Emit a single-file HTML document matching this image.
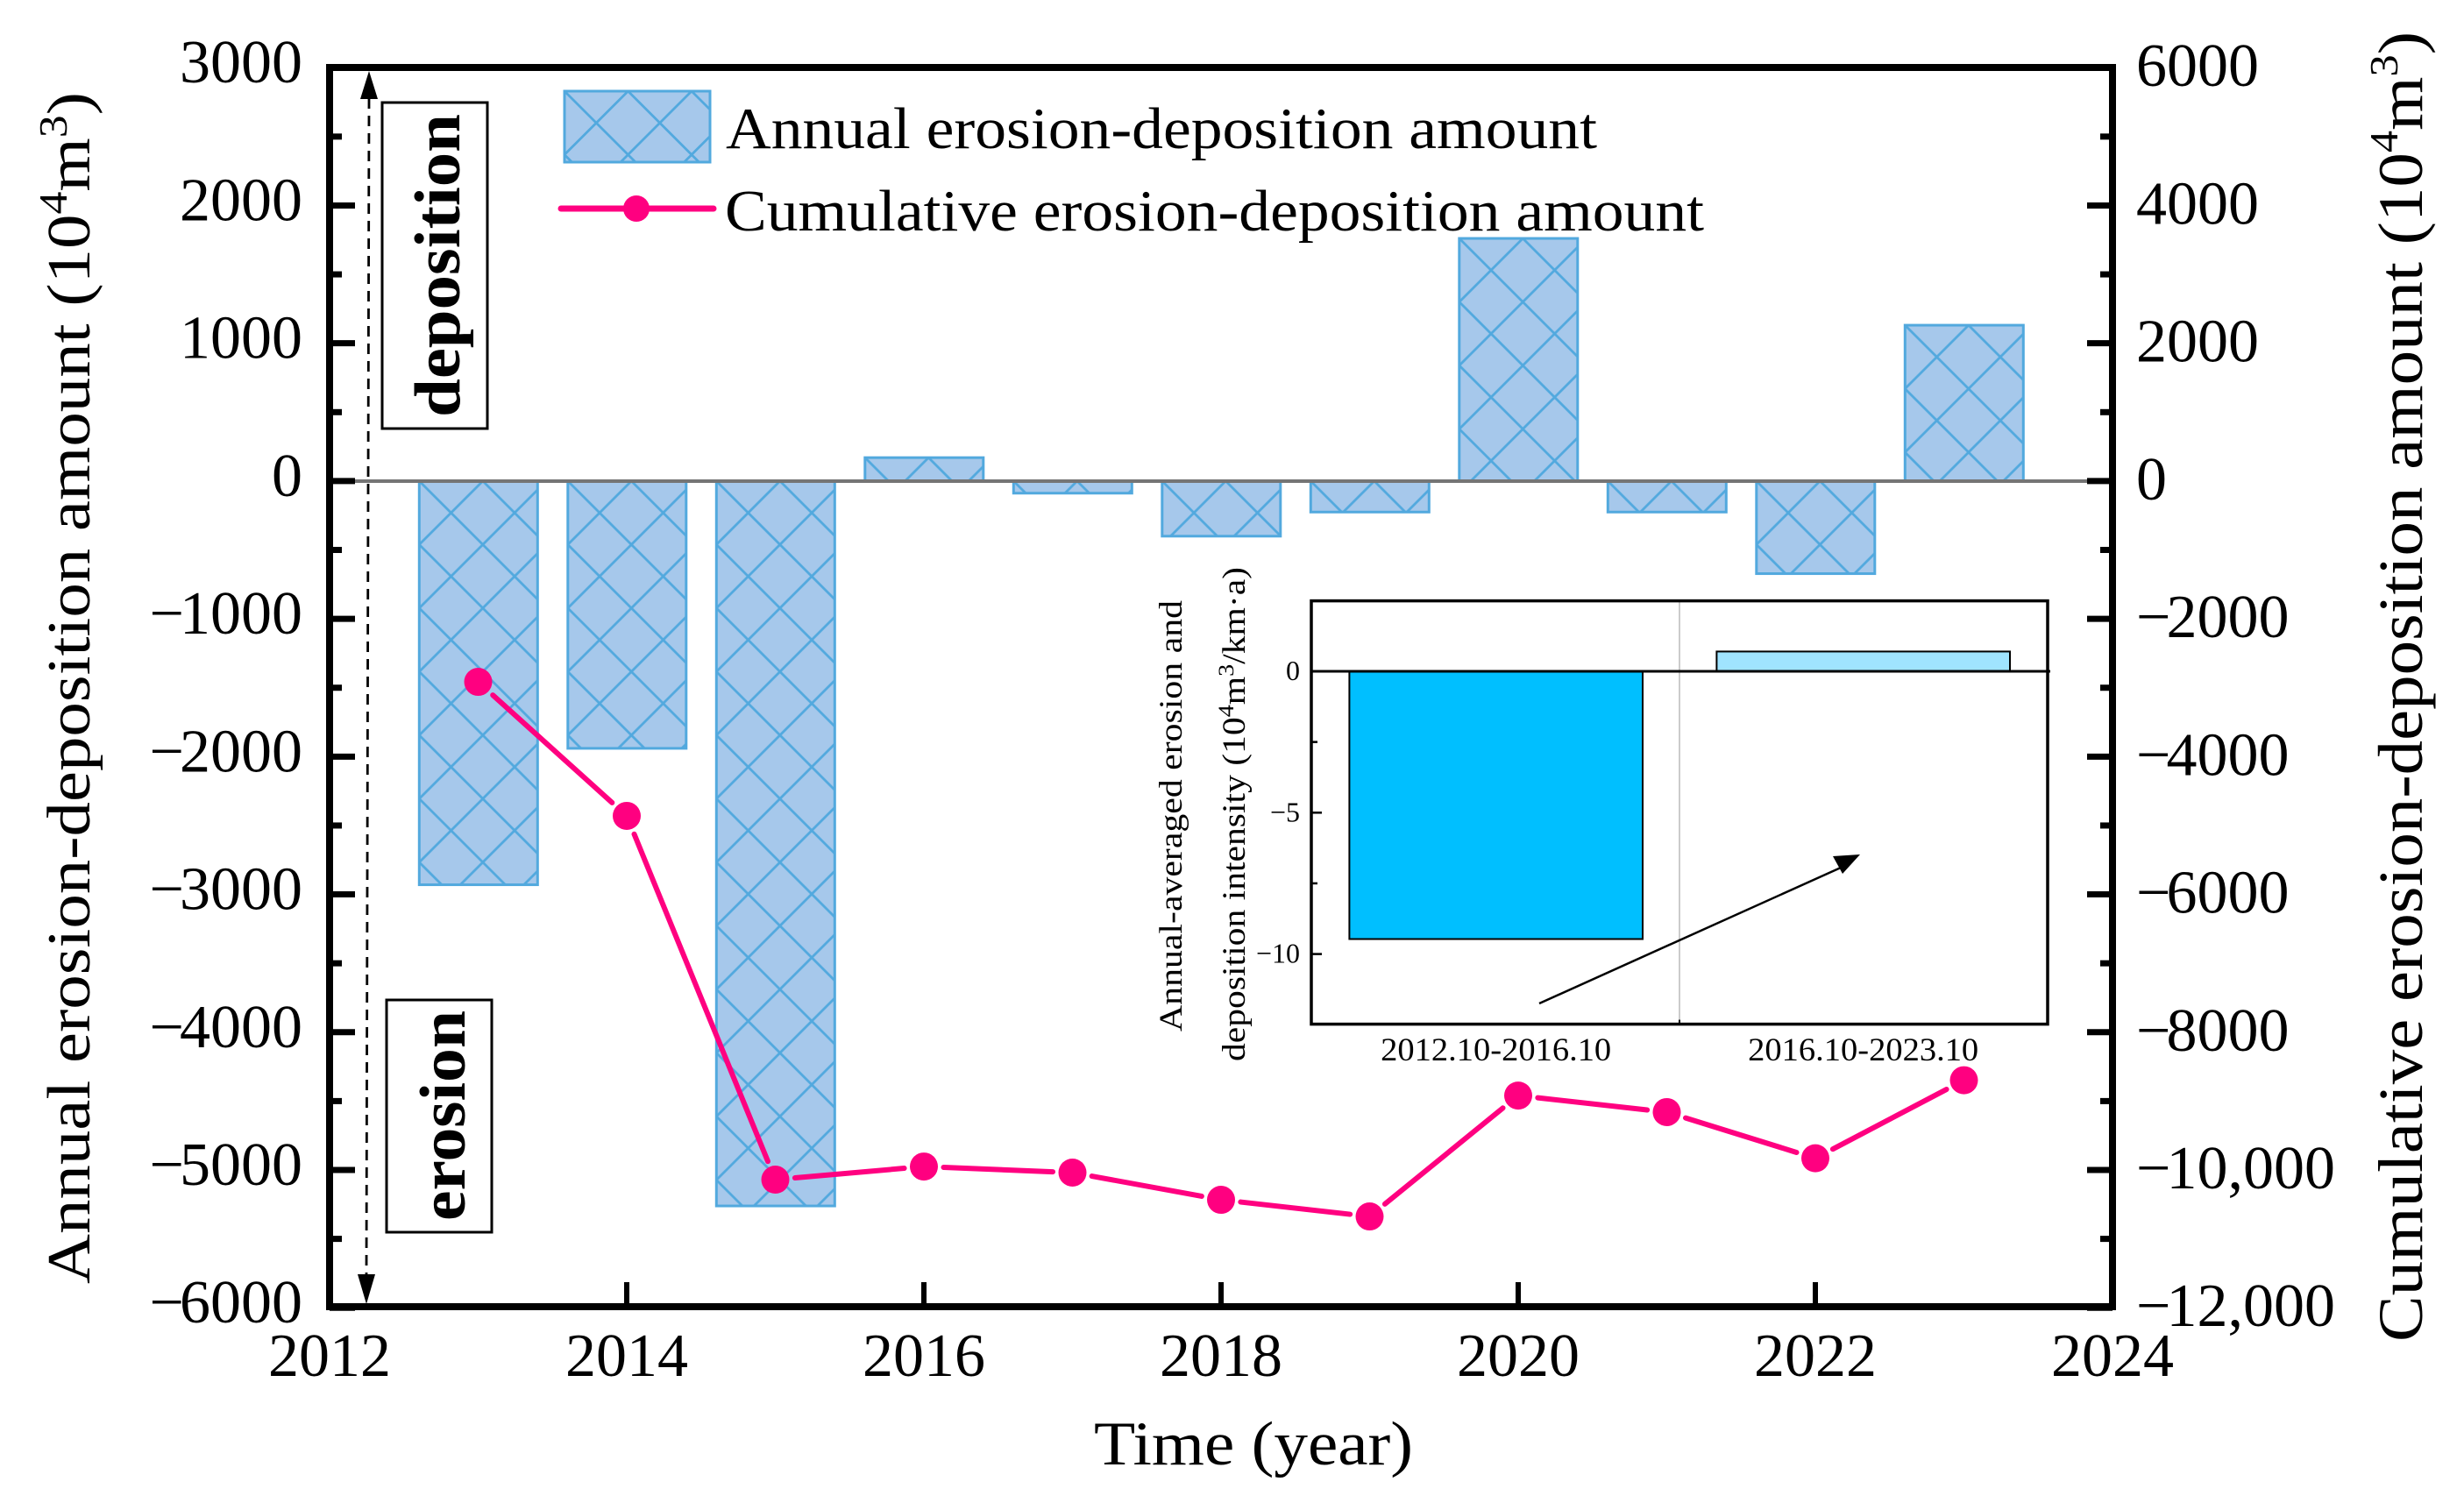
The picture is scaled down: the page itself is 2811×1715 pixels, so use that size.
<!DOCTYPE html>
<html lang="en">
<head>
<meta charset="utf-8">
<title>Annual and cumulative erosion-deposition amount</title>
<style>
html,body{margin:0;padding:0;background:#fff;}
svg{display:block;}
text{font-family:"Liberation Serif",serif;fill:#000;}
</style>
</head>
<body>
<svg id="chart" xmlns="http://www.w3.org/2000/svg" width="2811" height="1715" viewBox="0 0 2811 1715">
  <defs>
    <pattern id="hatch" patternUnits="userSpaceOnUse" x="0" y="0" width="72.5" height="72.5">
      <rect width="72.5" height="72.5" fill="#a6c8eb"/>
      <path d="M0 0L72.5 72.5M72.5 0L0 72.5" stroke="#52a9de" stroke-width="2.8" fill="none"/>
    </pattern>
    <pattern id="hatch-legend" patternUnits="userSpaceOnUse" x="0" y="0" width="72.5" height="72.5">
      <rect width="72.5" height="72.5" fill="#a6c8eb"/>
      <path d="M0 0L72.5 72.5M72.5 0L0 72.5" stroke="#52a9de" stroke-width="2.8" fill="none"/>
    </pattern>
  </defs>
  <rect width="2811" height="1715" fill="#fff"/>

  <g id="bars"></g>
  <line x1="405" y1="549" x2="2400" y2="549" stroke="#757575" stroke-width="4"/>

  <g id="inset"></g>

  <g id="series"></g>

  <g id="axes"></g>
  <rect x="376" y="77" width="2034" height="1414" fill="none" stroke="#000" stroke-width="8"/>

  <text x="1248" y="1671" font-size="71" textLength="364" lengthAdjust="spacingAndGlyphs">Time (year)</text>
  <text transform="translate(102,1465) rotate(-90)" font-size="70" textLength="1360" lengthAdjust="spacingAndGlyphs">Annual erosion-deposition amount (10<tspan font-size="46" dy="-26">4</tspan><tspan dy="26">m</tspan><tspan font-size="46" dy="-26">3</tspan><tspan dy="26">)</tspan></text>
  <text transform="translate(2763,1531) rotate(-90)" font-size="72" textLength="1495" lengthAdjust="spacingAndGlyphs">Cumulative erosion-deposition amount (10<tspan font-size="46" dy="-28">4</tspan><tspan dy="28">m</tspan><tspan font-size="46" dy="-28">3</tspan><tspan dy="28">)</tspan></text>

  <g>
    <g>
      <rect transform="translate(644,104)" width="166" height="81" fill="url(#hatch-legend)" stroke="#52a9de" stroke-width="3"/>
      <text x="828" y="169" font-size="67" textLength="994" lengthAdjust="spacingAndGlyphs">Annual erosion-deposition amount</text>
    </g>
    <g>
      <line x1="640" y1="238" x2="814" y2="238" stroke="#ff0080" stroke-width="7" stroke-linecap="round"/>
      <circle cx="726" cy="238" r="15" fill="#ff0080"/>
      <text x="827" y="263" font-size="67" textLength="1117" lengthAdjust="spacingAndGlyphs">Cumulative erosion-deposition amount</text>
    </g>
  </g>

  <g>
    <rect x="436" y="117" width="120" height="372" fill="#fff" stroke="#000" stroke-width="3"/>
    <text transform="translate(524,476) rotate(-90)" font-size="74" font-weight="bold" textLength="346" lengthAdjust="spacingAndGlyphs">deposition</text>
  </g>
  <g>
    <rect x="441" y="1141" width="120" height="265" fill="#fff" stroke="#000" stroke-width="3"/>
    <text transform="translate(530,1393) rotate(-90)" font-size="74" font-weight="bold" textLength="240" lengthAdjust="spacingAndGlyphs">erosion</text>
  </g>
  <g>
    <line x1="421" y1="112" x2="418" y2="1455" stroke="#000" stroke-width="2.8" stroke-dasharray="12 8"/>
    <polygon points="421,81 411,113 431,113" fill="#000"/>
    <polygon points="418,1488 408,1454 428,1454" fill="#000"/>
  </g>
</svg>

<script>
// Main chart data
const years = [2013, 2014, 2015, 2016, 2017, 2018, 2019, 2020, 2021, 2022, 2023];
const annualValues = [-2930, -1940, -5261, 170, -88, -400, -225, 1761, -225, -672, 1131];
const cumulativeValues = [-2915, -4860, -10140, -9950, -10038, -10433, -10675, -8920, -9160, -9830, -8697];
const xTickYears = [2012, 2014, 2016, 2018, 2020, 2022, 2024];
const leftTickValues = [3000, 2000, 1000, 0, -1000, -2000, -3000, -4000, -5000, -6000];
const rightTickValues = [6000, 4000, 2000, 0, -2000, -4000, -6000, -8000, -10000, -12000];
const rightTickLabels = ['6000', '4000', '2000', '0', '\u22122000', '\u22124000', '\u22126000', '\u22128000', '\u221210,000', '\u221212,000'];
// Inset data
const insetCategories = ['2012.10-2016.10', '2016.10-2023.10'];
const insetValues = [-9.47, 0.7];
const insetTickValues = [0, -5, -10];

// Axis functions
const xYear = y => 376 + (y - 2012) * 169.5;
const yLeft = v => 548.9 - v * 0.15722;
const yRight = v => 548.9 - v * 0.07861;
const BAR_W = 135;
const insetY = v => 766 - v * 32.26;
const INSET_L = 1496, INSET_R = 2336, INSET_T = 685.6, INSET_B = 1168.6;
const insetX = i => 1706.7 + i * 419;

const NS = 'http://www.w3.org/2000/svg';
function mk(parent, tag, attrs, txt) {
  const el = document.createElementNS(NS, tag);
  for (const k in attrs) el.setAttribute(k, attrs[k]);
  if (txt !== undefined) el.textContent = txt;
  parent.appendChild(el);
  return el;
}
const barsG = document.getElementById('bars');
const seriesG = document.getElementById('series');
const axesG = document.getElementById('axes');
const insetG = document.getElementById('inset');

// Bars
years.forEach((yr, i) => {
  const y0 = yLeft(0), y1 = yLeft(annualValues[i]);
  const top = Math.min(y0, y1), h = Math.abs(y1 - y0);
  const el = mk(barsG, 'rect', {
    transform: 'translate(' + (xYear(yr) - BAR_W / 2 + 0.3) + ',' + top + ')',
    width: BAR_W, height: h, fill: 'url(#hatch)', stroke: '#52a9de', 'stroke-width': 3
  });
  
  
});

// Cumulative line with gaps around markers
const GAP = 22.5;
for (let i = 0; i < years.length - 1; i++) {
  const ax = xYear(years[i]), ay = yRight(cumulativeValues[i]);
  const bx = xYear(years[i + 1]), by = yRight(cumulativeValues[i + 1]);
  const d = Math.hypot(bx - ax, by - ay), ux = (bx - ax) / d, uy = (by - ay) / d;
  const seg = mk(seriesG, 'line', {
    x1: ax + ux * GAP, y1: ay + uy * GAP, x2: bx - ux * GAP, y2: by - uy * GAP,
    stroke: '#ff0080', 'stroke-width': 6, 'stroke-linecap': 'round'
  });
  
  
}
years.forEach((yr, i) => {
  const pt = mk(seriesG, 'circle', { cx: xYear(yr), cy: yRight(cumulativeValues[i]), r: 16, fill: '#ff0080' });
  
  
});

// X axis
xTickYears.forEach(yr => {
  const t = mk(axesG, 'line', { x1: xYear(yr), x2: xYear(yr), y1: 1491, y2: 1463, stroke: '#000', 'stroke-width': 6 });
  
  
  const l = mk(axesG, 'text', { x: xYear(yr), y: 1570, 'font-size': 70, 'text-anchor': 'middle' }, String(yr));
  
  
});

// Left axis
leftTickValues.forEach((v, i) => {
  const y = yLeft(v);
  const t = mk(axesG, 'line', { x1: 376, x2: 405, y1: y, y2: y, stroke: '#000', 'stroke-width': 7 });
  
  
  if (i < leftTickValues.length - 1) {
    const ym = yLeft(v - 500);
    const m = mk(axesG, 'line', { x1: 376, x2: 390, y1: ym, y2: ym, stroke: '#000', 'stroke-width': 7 });
    
    
  }
  const lab = String(Math.abs(v));
  const l = mk(axesG, 'text', { x: 345, y: y + 17, 'font-size': 70, 'text-anchor': 'end', dx: v < 0 ? '0 -5' : '0' }, (v < 0 ? '\u2212' : '') + lab);
  
  
});

// Right axis
rightTickValues.forEach((v, i) => {
  const y = yRight(v);
  const t = mk(axesG, 'line', { x1: 2410, x2: 2381, y1: y, y2: y, stroke: '#000', 'stroke-width': 7 });
  
  
  if (i < rightTickValues.length - 1) {
    const ym = yRight(v - 1000);
    const m = mk(axesG, 'line', { x1: 2410, x2: 2396, y1: ym, y2: ym, stroke: '#000', 'stroke-width': 7 });
    
    
  }
  const l = mk(axesG, 'text', { x: 2437, y: y + 21, 'font-size': 70, dx: v < 0 ? '0 -5' : '0' }, rightTickLabels[i]);
  
  
});

// Inset
const insetDivider = mk(insetG, 'line', { x1: 1916, x2: 1916, y1: INSET_T, y2: INSET_B, stroke: '#cccccc', 'stroke-width': 2 });


const insetBarFills = ['#00bfff', '#a0e4ff'];
insetValues.forEach((v, i) => {
  const y0 = insetY(0), y1 = insetY(v);
  const b = mk(insetG, 'rect', {
    x: insetX(i) - 167.3, y: Math.min(y0, y1), width: 334.6, height: Math.abs(y1 - y0),
    fill: insetBarFills[i], stroke: '#000', 'stroke-width': 2
  });
  
  
  const l = mk(insetG, 'text', {
    x: insetX(i) - 131.5, y: 1210, 'font-size': 37, textLength: 263, lengthAdjust: 'spacingAndGlyphs'
  }, insetCategories[i]);
  
  
});
const insetFrame = mk(insetG, 'rect', { x: INSET_L, y: INSET_T, width: INSET_R - INSET_L, height: INSET_B - INSET_T, fill: 'none', stroke: '#000', 'stroke-width': 3.5 });


const insetZero = mk(insetG, 'line', { x1: INSET_L, x2: INSET_R + 3, y1: insetY(0), y2: insetY(0), stroke: '#000', 'stroke-width': 3 });


const insetDivTick = mk(insetG, 'line', { x1: 1916, x2: 1916, y1: INSET_B, y2: INSET_B - 5, stroke: '#000', 'stroke-width': 2 });


insetTickValues.forEach(v => {
  const y = insetY(v);
  const t = mk(insetG, 'line', { x1: INSET_L, x2: INSET_L + 12, y1: y, y2: y, stroke: '#000', 'stroke-width': 2.5 });
  
  
  const l = mk(insetG, 'text', { x: 1483, y: y + 10, 'font-size': 32, 'text-anchor': 'end' }, (v < 0 ? '\u2212' : '') + Math.abs(v));
  
  
  if (v > insetTickValues[insetTickValues.length - 1]) {
    const ym = insetY(v - 2.5);
    const m = mk(insetG, 'line', { x1: INSET_L, x2: INSET_L + 7, y1: ym, y2: ym, stroke: '#000', 'stroke-width': 2.5 });
    
    
  }
});
const insetArrow = mk(insetG, 'line', { x1: 1756, y1: 1145, x2: 2100, y2: 990, stroke: '#000', 'stroke-width': 2.5 });


const insetHead = mk(insetG, 'polygon', { points: '2122,975 2091,977 2102,997', fill: '#000' });


const insetT1 = mk(insetG, 'text', { transform: 'translate(1348,1177) rotate(-90)', 'font-size': 37, textLength: 492, lengthAdjust: 'spacingAndGlyphs' }, 'Annual-averaged erosion and');


const insetT2 = mk(insetG, 'text', { transform: 'translate(1420,1211) rotate(-90)', 'font-size': 37, textLength: 564, lengthAdjust: 'spacingAndGlyphs' }, 'deposition intensity (10');


const s1 = mk(insetT2, 'tspan', { 'font-size': 25, dy: -13 }, '4');


const s2 = mk(insetT2, 'tspan', { dy: 13 }, 'm');


const s3 = mk(insetT2, 'tspan', { 'font-size': 25, dy: -13 }, '3');


const s4 = mk(insetT2, 'tspan', { dy: 13 }, '/km\u00b7a)');


</script>
</body>
</html>
